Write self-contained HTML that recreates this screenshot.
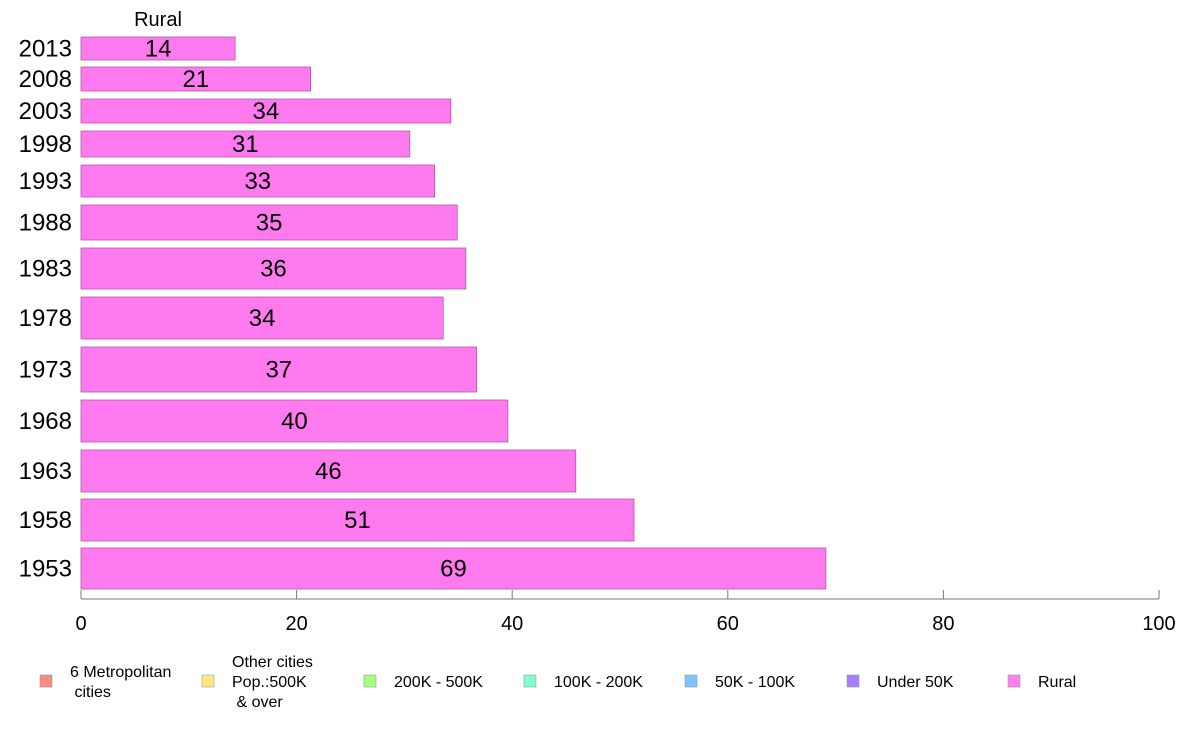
<!DOCTYPE html>
<html><head><meta charset="utf-8"><style>
body{margin:0;background:#fff;width:1188px;height:736px;overflow:hidden;font-family:"Liberation Sans",sans-serif}
</style></head><body>
<svg id="chart" width="1188" height="736" xmlns="http://www.w3.org/2000/svg" font-family="Liberation Sans, sans-serif">
<text x="158" y="26" font-size="20" text-anchor="middle">Rural</text>
<g id="bars"></g>
<g id="axis"></g>
<g id="legend"></g>
</svg>
<script>
const years = ["2013","2008","2003","1998","1993","1988","1983","1978","1973","1968","1963","1958","1953"];
const values = [14.3,21.3,34.3,30.5,32.8,34.9,35.7,33.6,36.7,39.6,45.9,51.3,69.1];
const labels = ["14","21","34","31","33","35","36","34","37","40","46","51","69"];
const ticks = [0,20,40,60,80,100];
const legendItems = ["6 Metropolitan\n cities","Other cities\nPop.:500K\n & over","200K - 500K","100K - 200K","50K - 100K","Under 50K","Rural"];
const legendColors = ["#ff8a80","#ffe680","#a6ff80","#80ffcc","#80c4ff","#a680ff","#ff80ee"];
// row bands (layout)
const bandTop = [37,67,99,131,165,205,248,297,347,400,450,499,548];
const bandBot = [60,91,123,157,197,240,289,339,392,442,492,541,589];
const NS="http://www.w3.org/2000/svg";
const x0=81,x1=1159;
const xs=v=>x0+(x1-x0)*v/100;
function mk(t,a,p){const e=document.createElementNS(NS,t);for(const k in a)e.setAttribute(k,a[k]);p.appendChild(e);return e;}
const bars=document.getElementById('bars');
years.forEach((y,i)=>{
  const r=mk('rect',{x:x0,y:bandTop[i],width:xs(values[i])-x0,height:bandBot[i]-bandTop[i],fill:'#ff7aee',stroke:'#b05aa8','stroke-width':0.8},bars);
  
  
  const cy=(bandTop[i]+bandBot[i])/2;
  const t=mk('text',{x:(x0+xs(values[i]))/2,y:cy+8,'font-size':24,'text-anchor':'middle'},bars);t.textContent=labels[i];
  
  
  const yl=mk('text',{x:72,y:cy+8,'font-size':24,'text-anchor':'end'},bars);yl.textContent=y;
  
  
});
const ax=document.getElementById('axis');
const l=mk('line',{x1:x0,x2:x1,y1:599,y2:599,stroke:'#777','stroke-width':1},ax);


ticks.forEach(v=>{
  mk('line',{x1:xs(v),x2:xs(v),y1:599,y2:590,stroke:'#777'},ax);
  const t=mk('text',{x:xs(v),y:630,'font-size':20,'text-anchor':'middle'},ax);t.textContent=v;
  
  
});
const lg=document.getElementById('legend');
const lx=[40,202,364,524,685,847,1008];
legendItems.forEach((s,i)=>{
  const g=mk('g',{},lg);
  
  
  mk('rect',{x:lx[i],y:675,width:12,height:12,fill:legendColors[i],stroke:'#999','stroke-width':0.6},g);
  const lines=s.split('\n');
  const startY=681-(lines.length-1)*10+6;
  lines.forEach((ln,j)=>{
    const t=mk('text',{x:lx[i]+30,y:startY+j*20,'font-size':16},g);
    t.setAttribute('xml:space','preserve');t.style.whiteSpace='pre';t.textContent=ln;
  });
});
</script>
</body></html>
